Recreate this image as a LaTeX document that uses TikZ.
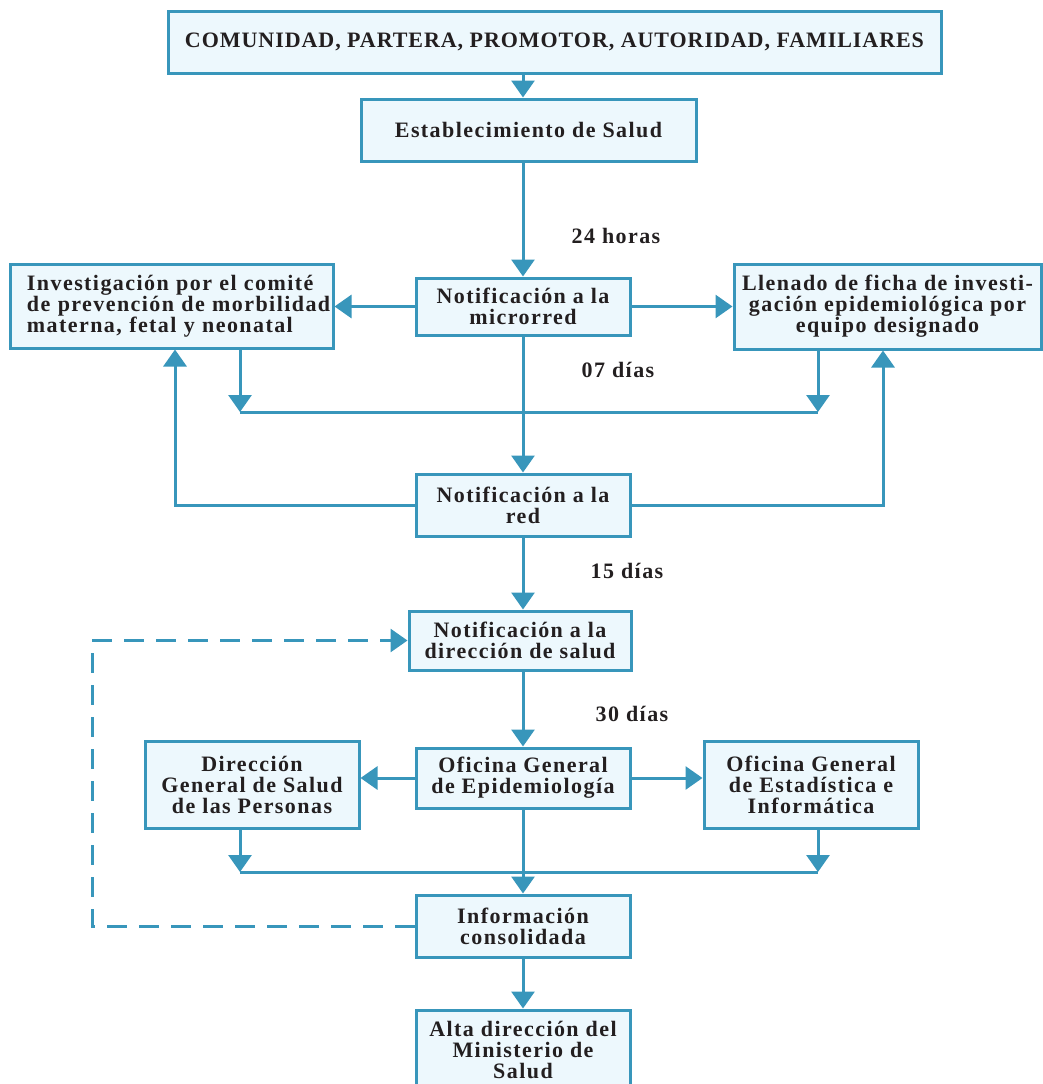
\documentclass[tikz,border=0pt]{standalone}
\usepackage{fontspec}
\setmainfont{Liberation Serif}[LetterSpace=6.5]
\usetikzlibrary{arrows.meta}
\definecolor{ln}{HTML}{3896BB}
\definecolor{bx}{HTML}{EDF8FD}
\definecolor{tx}{HTML}{231F20}
\begin{document}
\begin{tikzpicture}[x=1pt,y=-1pt,
  box/.style={draw=ln,line width=3pt,fill=bx,inner sep=0pt,text=tx,
    font=\bfseries\fontsize{22}{21}\selectfont,align=center},
  conn/.style={draw=ln,line width=3pt},
  arr/.style={conn,-{Triangle[length=17pt,width=23pt]}},
  lbl/.style={text=tx,font=\bfseries\fontsize{22}{21}\selectfont}]
\useasboundingbox (0,0) rectangle (1043,1084);
% boxes
\node[box,minimum width=773,minimum height=62] (b1) at (554.5,42)
  {\addfontfeature{LetterSpace=4.3}COMUNIDAD, PARTERA, PROMOTOR, AUTORIDAD, FAMILIARES};
\node[box,minimum width=335,minimum height=62] (b2) at (528.5,130) {Establecimiento de Salud};
\node[box,minimum width=214,minimum height=57] (mic) at (523,306.5) {Notificación a la\\microrred};
\node[box,minimum width=323,minimum height=84,align=left,text width=289] (inv) at (171.5,306)
  {\mbox{Investigación por el comité}\\\mbox{de prevención de morbilidad}\\\mbox{materna, fetal y neonatal}};
\node[box,minimum width=307,minimum height=85] (lle) at (887.5,306.5)
  {Llenado de ficha de investi-\\gación epidemiológica por\\equipo designado};
\node[box,minimum width=214,minimum height=62] (red) at (523,505) {Notificación a la\\red};
\node[box,minimum width=222,minimum height=59] (dir) at (520,640.5) {Notificación a la\\dirección de salud};
\node[box,minimum width=214,minimum height=60] (ofe) at (523,778) {Oficina General\\de Epidemiología};
\node[box,minimum width=214,minimum height=87] (dgs) at (252,784.5) {Dirección\\General de Salud\\de las Personas};
\node[box,minimum width=214,minimum height=87] (oge) at (811,784.5) {Oficina General\\de Estadística e\\Informática};
\node[box,minimum width=214,minimum height=62] (inf) at (523,926) {Información\\consolidada};
\node[box,minimum width=214,minimum height=80] (alta) at (523,1050) {Alta dirección del\\Ministerio de\\Salud};
% labels
\node[lbl] (l24) at (616,236) {24 horas};
\node[lbl] (l07) at (618,370) {07 días};
\node[lbl] (l15) at (627,571) {15 días};
\node[lbl] (l30) at (632,714) {30 días};
% junctions
\coordinate (j1l) at (240,412);
\coordinate (j1r) at (818,412);
\coordinate (j2l) at (240,872);
\coordinate (j2r) at (818,872);
\coordinate (dk) at (92,926);
% connectors
\draw[arr] (b1.south -| mic.north) -- (b2.north -| mic.north);
\draw[arr] (b2.south -| mic.north) -- (mic.north);
\draw[arr] (mic.west) -- (mic.west -| inv.east);
\draw[arr] (mic.east) -- (mic.east -| lle.west);
\draw[arr] (inv.south -| j1l) -- (j1l);
\draw[arr] (lle.south -| j1r) -- (j1r);
\draw[conn] (j1l) -- (j1r);
\draw[arr] (mic.south) -- (red.north);
\draw[arr] (red.west) -| ([xshift=3.5pt]inv.south);
\draw[arr] (red.east) -| ([xshift=-4.5pt]lle.south);
\draw[arr] (red.south) -- (red.south |- dir.north);
\draw[arr,dash pattern=on 20pt off 12pt] (inf.west) -- (dk) |- (dir.west);
\draw[arr] (dir.south -| ofe.north) -- (ofe.north);
\draw[arr] (ofe.west) -- (ofe.west -| dgs.east);
\draw[arr] (ofe.east) -- (ofe.east -| oge.west);
\draw[arr] (dgs.south -| j2l) -- (j2l);
\draw[arr] (oge.south -| j2r) -- (j2r);
\draw[conn] (j2l) -- (j2r);
\draw[arr] (ofe.south) -- (inf.north);
\draw[arr] (inf.south) -- (alta.north);
\end{tikzpicture}
\end{document}
